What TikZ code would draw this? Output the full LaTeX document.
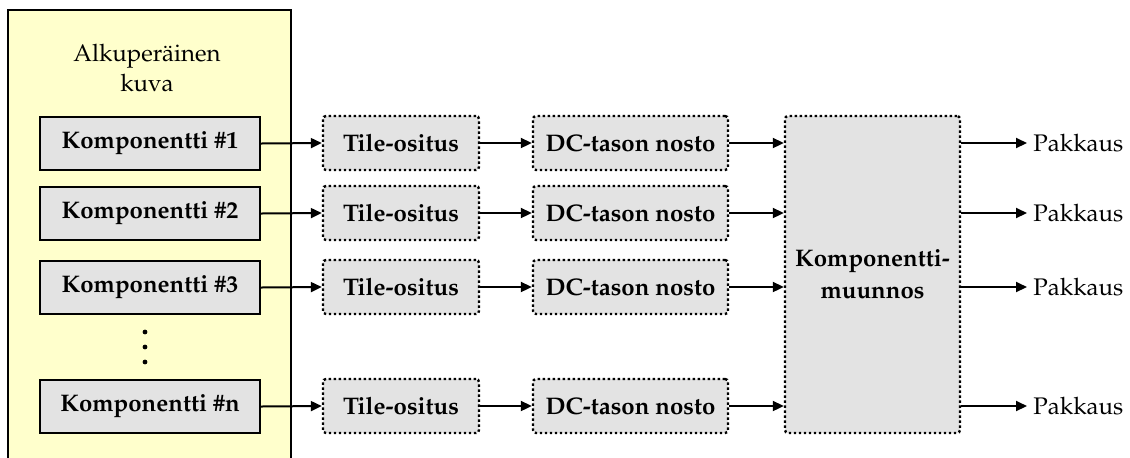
\documentclass[tikz,border=0pt]{standalone}
\usepackage[T1]{fontenc}
\usepackage{mathpazo}
\usetikzlibrary{arrows.meta}
\definecolor{paper}{HTML}{FFFFCC}
\definecolor{boxgrey}{HTML}{E3E3E3}
\tikzset{
  x=0.5pt, y=-0.5pt,
  comp/.style={draw=black, line width=1pt, fill=boxgrey, minimum width=110pt,
    minimum height=26.5pt, inner sep=0pt, font=\fontsize{12}{14}\selectfont\bfseries},
  stage/.style={draw=black, line width=1.2pt, dash pattern=on 1.2pt off 1.3pt,
    rounded corners=1.5pt, fill=boxgrey, minimum height=27pt, inner sep=0pt,
    font=\fontsize{12}{14}\selectfont\bfseries},
  tilebox/.style={stage, minimum width=78pt},
  dcbox/.style={stage, minimum width=97.5pt},
  outlabel/.style={anchor=west, inner sep=1pt, font=\fontsize{12}{14}\selectfont},
  flow/.style={line width=1pt, -{Triangle[length=5.5pt,width=5pt]}},
}
\begin{document}
\begin{tikzpicture}
\useasboundingbox (0,0) rectangle (1130,457);
\clip (0,0) rectangle (1130,457);
\fill[white] (0,0) rectangle (1130,457);

% source image frame, open at the bottom
\draw[line width=1pt, fill=paper] (8,10) rectangle (291,480);
\node[align=center, font=\fontsize{12}{15}\selectfont] (title) at (147,68) {Alkuper\"ainen\\kuva};

% components
\node[comp] (c1) at (150,143.5) {Komponentti \#1};
\node[comp] (c2) at (150,213.5) {Komponentti \#2};
\node[comp] (c3) at (150,287.5) {Komponentti \#3};
\node[comp] (cn) at (150,406.5) {Komponentti \#n};
\foreach \yy [count=\i] in {332,347,362}
  \fill (145,\yy) circle (1.2pt) coordinate (dot\i);

% tiling stage
\node[tilebox] (t1) at (401,143) {Tile-ositus};
\node[tilebox] (t2) at (401,213) {Tile-ositus};
\node[tilebox] (t3) at (401,287) {Tile-ositus};
\node[tilebox] (tn) at (401,406) {Tile-ositus};

% DC level shift stage
\node[dcbox] (d1) at (630.5,143) {DC-tason nosto};
\node[dcbox] (d2) at (630.5,213) {DC-tason nosto};
\node[dcbox] (d3) at (630.5,287) {DC-tason nosto};
\node[dcbox] (dn) at (630.5,406) {DC-tason nosto};

% component transform
\node[stage, minimum width=87.5pt, minimum height=158.5pt, align=center,
  font=\fontsize{12}{16}\selectfont\bfseries] (mct) at (872.5,274.5) {Komponentti-\\muunnos};

% outputs
\node[outlabel] (p1) at (1031,143) {Pakkaus};
\node[outlabel] (p2) at (1031,213) {Pakkaus};
\node[outlabel] (p3) at (1031,287) {Pakkaus};
\node[outlabel] (pn) at (1031,406) {Pakkaus};

\foreach \r in {1,2,3,n} {
  \draw[flow] (c\r.east) -- (t\r.west);
  \draw[flow] (t\r.east) -- (d\r.west);
  \draw[flow] (d\r.east) -- (d\r.east -| mct.west);
  \draw[flow] (mct.east |- p\r.west) -- ([xshift=-2pt]p\r.west);
}
\end{tikzpicture}
\end{document}
